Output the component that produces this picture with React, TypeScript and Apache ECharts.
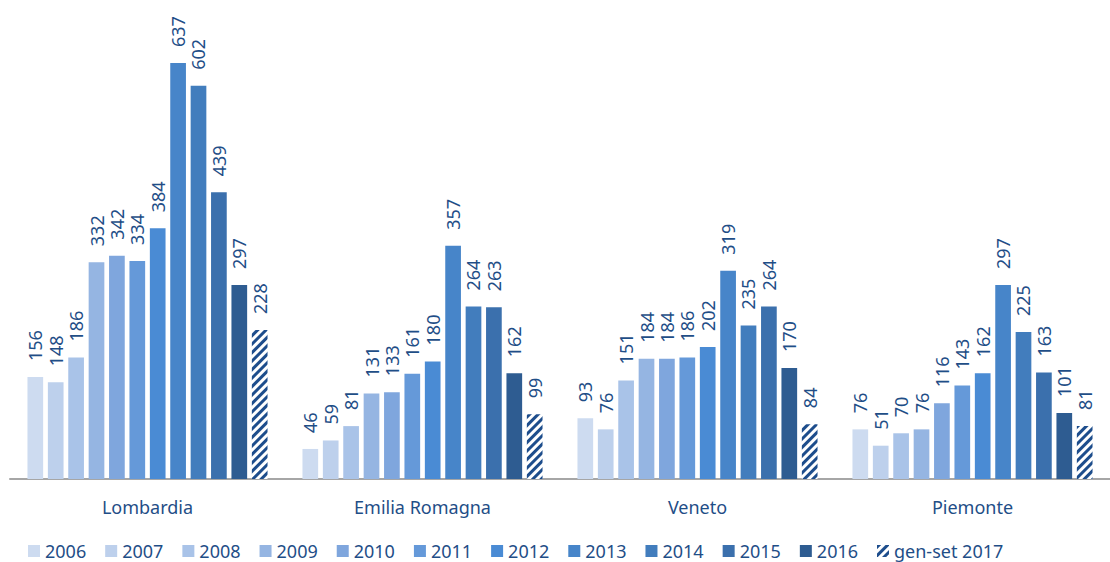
import React, { useEffect, useRef } from "react";
import * as echarts from "echarts";

const regions = ["Lombardia", "Emilia Romagna", "Veneto", "Piemonte"];
const years = ["2006", "2007", "2008", "2009", "2010", "2011", "2012", "2013", "2014", "2015", "2016", "gen-set 2017"];
const values2006 = [156, 46, 93, 76];
const values2007 = [148, 59, 76, 51];
const values2008 = [186, 81, 151, 70];
const values2009 = [332, 131, 184, 76];
const values2010 = [342, 133, 184, 116];
const values2011 = [334, 161, 186, 143];
const values2012 = [384, 180, 202, 162];
const values2013 = [637, 357, 319, 297];
const values2014 = [602, 264, 235, 225];
const values2015 = [439, 263, 264, 163];
const values2016 = [297, 162, 170, 101];
const values2017 = [228, 99, 84, 81];
const seriesValues = [values2006, values2007, values2008, values2009, values2010, values2011, values2012, values2013, values2014, values2015, values2016, values2017];

const colors = ["#cddbf0", "#bdd0ec", "#a9c3e8", "#95b5e2", "#7fa6dd", "#6599d9", "#4a8bd4", "#4785c9", "#427dbd", "#3b70ad", "#2e5c91", "#ffffff"];
const textColor = "#1f4e87";
const hatchColor = "#1d4d8c";

export default function App() {
  const ref = useRef<HTMLDivElement>(null);
  useEffect(() => {
    if (!ref.current) return;
    const chart = echarts.init(ref.current, null, { renderer: "svg" });
    const series = years.map((y, i) => {
      const isHatch = i === years.length - 1;
      return {
        name: y,
        type: "bar",
        data: seriesValues[i],
        barGap: "30%",
        barCategoryGap: "12.7%",
        itemStyle: isHatch
          ? {
              color: "#ffffff",
              decal: {
                symbol: "rect",
                symbolSize: 1,
                color: hatchColor,
                backgroundColor: "#ffffff",
                dashArrayX: [1, 0],
                dashArrayY: [2.5, 2.5],
                rotation: -Math.PI / 4,
              },
            }
          : { color: colors[i] },
        label: {
          show: true,
          position: "top",
          rotate: 90,
          align: "left",
          verticalAlign: "middle",
          distance: 16,
          fontSize: 18,
          fontFamily: "Noto Sans",
          color: textColor,
        },
      };
    });
    chart.setOption({
      animation: false,
      textStyle: { fontFamily: "Noto Sans" },
      grid: { left: 10, top: 63, width: 1110, height: 416 },
      legend: {
        left: 23,
        top: 537,
        icon: "rect",
        itemWidth: 12,
        itemHeight: 12,
        itemGap: 19,
        textStyle: { fontSize: 18, color: textColor, fontFamily: "Noto Sans" },
        data: years,
      },
      xAxis: {
        type: "category",
        data: regions,
        axisLine: { lineStyle: { color: "#a6a6a6", width: 2 } },
        axisTick: { show: false },
        axisLabel: { fontSize: 18, color: textColor, margin: 19, fontFamily: "Noto Sans" },
      },
      yAxis: {
        type: "value",
        min: 0,
        max: 637,
        show: false,
        splitLine: { show: false },
      },
      series,
    });
    return () => chart.dispose();
  }, []);
  return <div ref={ref} style={{ position: "absolute", left: 0, top: 0, width: 1110, height: 562 }} />;
}
